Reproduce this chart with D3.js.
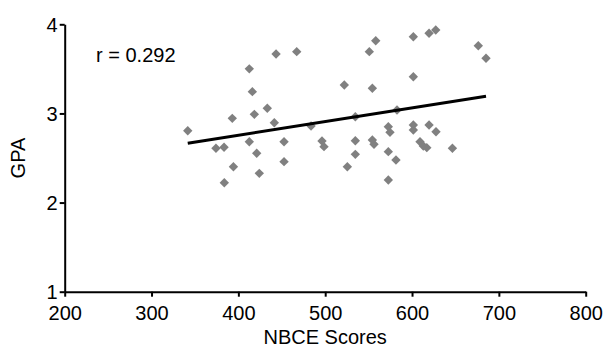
<!DOCTYPE html>
<html>
<head>
<meta charset="utf-8">
<script src="https://cdn.jsdelivr.net/npm/d3@7/dist/d3.min.js"></script>
<style>
  html, body { margin: 0; padding: 0; background: #fff; }
  svg { display: block; }
  text { font-family: "Liberation Sans", Arial, sans-serif; fill: #000; }
</style>
</head>
<body>
<div id="chart"></div>
<script>
// NBCE scores (x) and GPA (y)
const nbceScores = [412.6, 416.1, 393.0, 418.4, 341.7, 374.2, 383.5, 412.6, 421.1, 394.3,
  383.8, 424.1, 443.4, 467.2, 433.3, 441.4, 452.6, 452.6, 483.7, 496.3,
  498.6, 522.0, 534.7, 534.7, 534.7, 525.5, 550.8, 558.2, 554.3, 554.3,
  556.2, 572.7, 574.6, 572.7, 581.5, 572.7, 582.7, 601.5, 601.5, 601.5,
  601.5, 609.2, 613.0, 617.0, 619.6, 627.3, 619.6, 627.6, 646.5, 676.3, 685.2];
const gpaValues = [3.50, 3.244, 2.945, 2.99, 2.806, 2.609, 2.62, 2.683, 2.553, 2.402,
  2.223, 2.328, 3.667, 3.693, 3.058, 2.896, 2.683, 2.459, 2.859, 2.691,
  2.627, 3.319, 2.963, 2.694, 2.541, 2.402, 3.693, 3.816, 3.282, 2.702,
  2.654, 2.851, 2.788, 2.571, 2.478, 2.253, 3.039, 3.861, 3.412, 2.870,
  2.814, 2.683, 2.635, 2.616, 3.899, 3.936, 2.870, 2.795, 2.609, 3.76, 3.619];
const xTicks = [200, 300, 400, 500, 600, 700, 800];
const yTicks = [1, 2, 3, 4];
const trendSlope = 0.001537;
const trendIntercept = 2.1406;
const rLabel = "r = 0.292";
const xTitle = "NBCE Scores";
const yTitle = "GPA";

const W = 605, H = 348;
const margin = { left: 64.7, right: 605 - 585.7, top: 24.3, bottom: 348 - 291.7 };

const svg = d3.select("#chart").append("svg").attr("width", W).attr("height", H);

const x = d3.scaleLinear().domain([200, 800]).range([margin.left, W - margin.right]);
const y = d3.scaleLinear().domain([1, 4]).range([H - margin.bottom, margin.top]);

// axes
const xAxis = svg.append("g")
  .attr("transform", `translate(0,${y(1)})`)
  .call(d3.axisBottom(x).tickValues(xTicks).tickFormat(d3.format("d")).tickSize(5).tickSizeOuter(0));
const yAxis = svg.append("g")
  .attr("transform", `translate(${x(200)},0)`)
  .call(d3.axisLeft(y).tickValues(yTicks).tickFormat(d3.format("d")).tickSize(5).tickSizeOuter(0));

[xAxis, yAxis].forEach(g => {
  g.select(".domain").attr("stroke", "#000").attr("stroke-width", 2);
  g.selectAll(".tick line").attr("stroke", "#000").attr("stroke-width", 2);
  g.selectAll(".tick text").attr("font-size", 20).attr("font-family", "Liberation Sans, Arial, sans-serif").attr("fill", "#000");
});
xAxis.selectAll(".tick text").attr("dy", null).attr("y", 28);
yAxis.selectAll(".tick text").attr("x", -7).attr("dy", "0.35em");

// points
const pts = nbceScores.map((v, i) => ({ v, g: gpaValues[i] }));
const diamond = d3.symbol().type(d3.symbolSquare).size(44);
svg.append("g").selectAll("path").data(pts).join("path")
  .attr("d", diamond)
  .attr("transform", d => `translate(${x(d.v)},${y(d.g)}) rotate(45)`)
  .attr("fill", "#808080");

// trend line
const ext = d3.extent(nbceScores);
svg.append("line")
  .attr("x1", x(ext[0])).attr("y1", y(trendIntercept + trendSlope * ext[0]))
  .attr("x2", x(ext[1])).attr("y2", y(trendIntercept + trendSlope * ext[1]))
  .attr("stroke", "#000").attr("stroke-width", 3);

// r label
svg.append("text").attr("x", 96).attr("y", 61.5).attr("font-size", 20).text(rLabel);

// axis titles
svg.append("text").attr("x", (x(200) + x(800)) / 2).attr("y", 344)
  .attr("text-anchor", "middle").attr("font-size", 20).text(xTitle);
svg.append("text")
  .attr("transform", `translate(25,${(y(1) + y(4)) / 2}) rotate(-90)`)
  .attr("text-anchor", "middle").attr("font-size", 20).text(yTitle);
</script>
</body>
</html>
